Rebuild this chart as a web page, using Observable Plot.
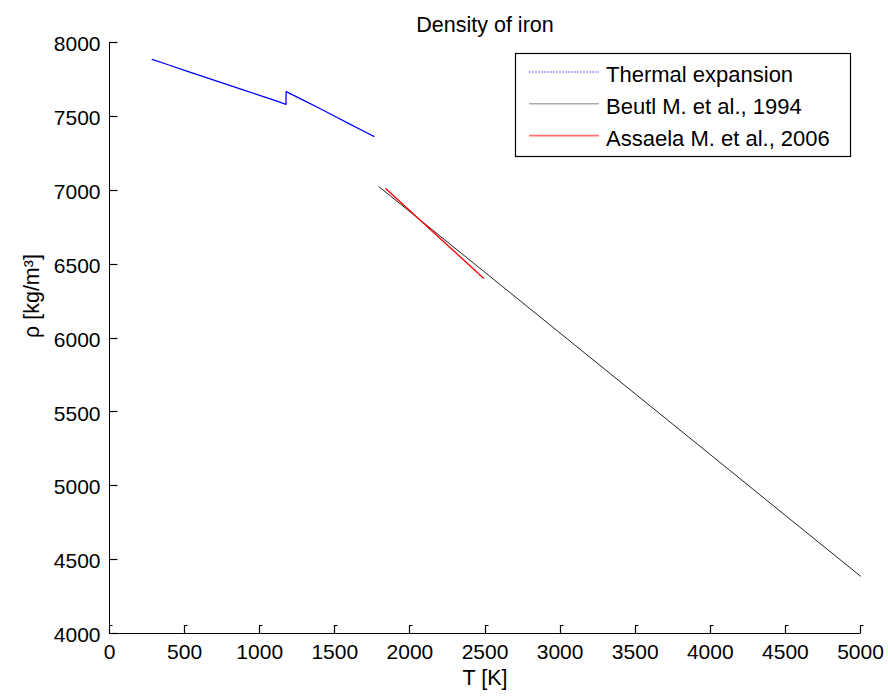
<!DOCTYPE html>
<html>
<head>
<meta charset="utf-8">
<script src="https://cdn.jsdelivr.net/npm/d3@7"></script>
<script src="https://cdn.jsdelivr.net/npm/@observablehq/plot@0.6"></script>
<style>
  html, body { margin: 0; padding: 0; background: #fff; }
  #wrap { position: relative; width: 888px; height: 698px; }
  #overlay { position: absolute; left: 0; top: 0; pointer-events: none; }
</style>
</head>
<body>
<div id="wrap"></div>
<script>
// ---- data ----
const thermalT   = [284, 400, 500, 600, 700, 800, 900, 1000, 1100, 1175, 1176, 1300, 1400, 1500, 1600, 1700, 1760];
const thermalRho = [7885, 7846, 7812, 7778, 7744, 7710, 7676, 7642, 7608, 7582, 7668, 7605, 7553, 7501, 7448, 7396, 7365];

const beutlT   = [1793, 2000, 2500, 3000, 3500, 4000, 4500, 5000];
const beutlRho = [7025, 6855, 6444, 6033, 5622, 5211, 4799, 4388];

const assaelT   = [1840, 2000, 2200, 2400, 2490];
const assaelRho = [7010, 6861, 6675, 6489, 6405];

const seriesNames  = ["Thermal expansion", "Beutl M. et al., 1994", "Assaela M. et al., 2006"];
const seriesColors = ["#0000ff", "#222222", "#ff0000"];
const legendColors = ["#9a9aff", "#aaaaaa", "#ff7070"];

const xTicks = [0, 500, 1000, 1500, 2000, 2500, 3000, 3500, 4000, 4500, 5000];
const yTicks = [4000, 4500, 5000, 5500, 6000, 6500, 7000, 7500, 8000];

const titleText = "Density of iron";
const xLabel = "T [K]";
const yLabel = "ρ [kg/m³]";

// ---- build tables ----
const thermal = thermalT.map((t, i) => ({T: t, rho: thermalRho[i]}));
const beutl   = beutlT.map((t, i) => ({T: t, rho: beutlRho[i]}));
const assael  = assaelT.map((t, i) => ({T: t, rho: assaelRho[i]}));

const W = 888, H = 698;
const mL = 109, mR = 28, mT = 42, mB = 65;
const font = "'Liberation Sans', Arial, Helvetica, sans-serif";

const chart = Plot.plot({
  width: W,
  height: H,
  marginLeft: mL,
  marginRight: mR,
  marginTop: mT,
  marginBottom: mB,
  style: {fontFamily: font, fontSize: "21px", color: "#000", background: "#fff", overflow: "visible"},
  x: {domain: [0, 5000]},
  y: {domain: [4000, 8000]},
  marks: [
    Plot.axisX({ticks: xTicks, tickSize: 0, tickPadding: 11, tickFormat: d => String(d), label: null, fontSize: 21}),
    Plot.axisY({ticks: yTicks, tickSize: 0, tickPadding: 9, tickFormat: d => String(d), label: null, fontSize: 21, dy: 2}),
    Plot.ruleY([4000], {stroke: "#000", strokeWidth: 1}),
    Plot.ruleX([0], {stroke: "#000", strokeWidth: 1}),
    Plot.line(thermal, {x: "T", y: "rho", stroke: seriesColors[0], strokeWidth: 1.3}),
    Plot.line(beutl, {x: "T", y: "rho", stroke: seriesColors[1], strokeWidth: 1}),
    Plot.line(assael, {x: "T", y: "rho", stroke: seriesColors[2], strokeWidth: 1.3}),
    Plot.text([titleText], {frameAnchor: "top", dy: -26, fontSize: 21.5, fill: "#000"}),
    Plot.text([xLabel], {frameAnchor: "bottom", dy: 51, fontSize: 21.5, fill: "#000"}),
    Plot.text([yLabel], {frameAnchor: "left", dx: -77, rotate: -90, fontSize: 21.5, fill: "#000"})
  ]
});
document.getElementById("wrap").appendChild(chart);

// ---- overlay: inward ticks (via Plot's scales) and legend ----
const sx = chart.scale("x"), sy = chart.scale("y");
const ov = d3.select("#wrap").append("svg")
  .attr("id", "overlay").attr("width", W).attr("height", H)
  .style("font-family", font);

const yBase = Math.round(sy.apply(yTicks[0])) + 0.5;
const xBase = Math.round(sx.apply(xTicks[0])) + 0.5;
xTicks.forEach(v => {
  const px = Math.round(sx.apply(v)) + 0.5;
  ov.append("path").attr("d", `M${px},${yBase}V${yBase - 8}H${px + 3}`)
    .attr("fill", "none").attr("stroke", "#000").attr("stroke-width", 1.2);
});
yTicks.forEach(v => {
  const py = Math.round(sy.apply(v)) + 0.5;
  ov.append("path").attr("d", `M${xBase},${py}H${xBase + 8}`)
    .attr("fill", "none").attr("stroke", "#000").attr("stroke-width", 1.2);
});

const box = {x: 515.5, y: 53.5, w: 335, h: 103};
ov.append("rect").attr("x", box.x).attr("y", box.y).attr("width", box.w).attr("height", box.h)
  .attr("fill", "#fff").attr("stroke", "#000").attr("stroke-width", 1.2);
seriesNames.forEach((name, i) => {
  const ly = 72 + i * 31.8;
  ov.append("line").attr("x1", 529).attr("x2", 599).attr("y1", ly).attr("y2", ly)
    .attr("stroke", legendColors[i]).attr("stroke-width", 1.6)
    .attr("stroke-dasharray", i === 0 ? "2,1" : null);
  ov.append("text").attr("x", 606).attr("y", 81.7 + i * 32.2)
    .attr("font-size", 22).attr("fill", "#000").text(name);
});
</script>
</body>
</html>
